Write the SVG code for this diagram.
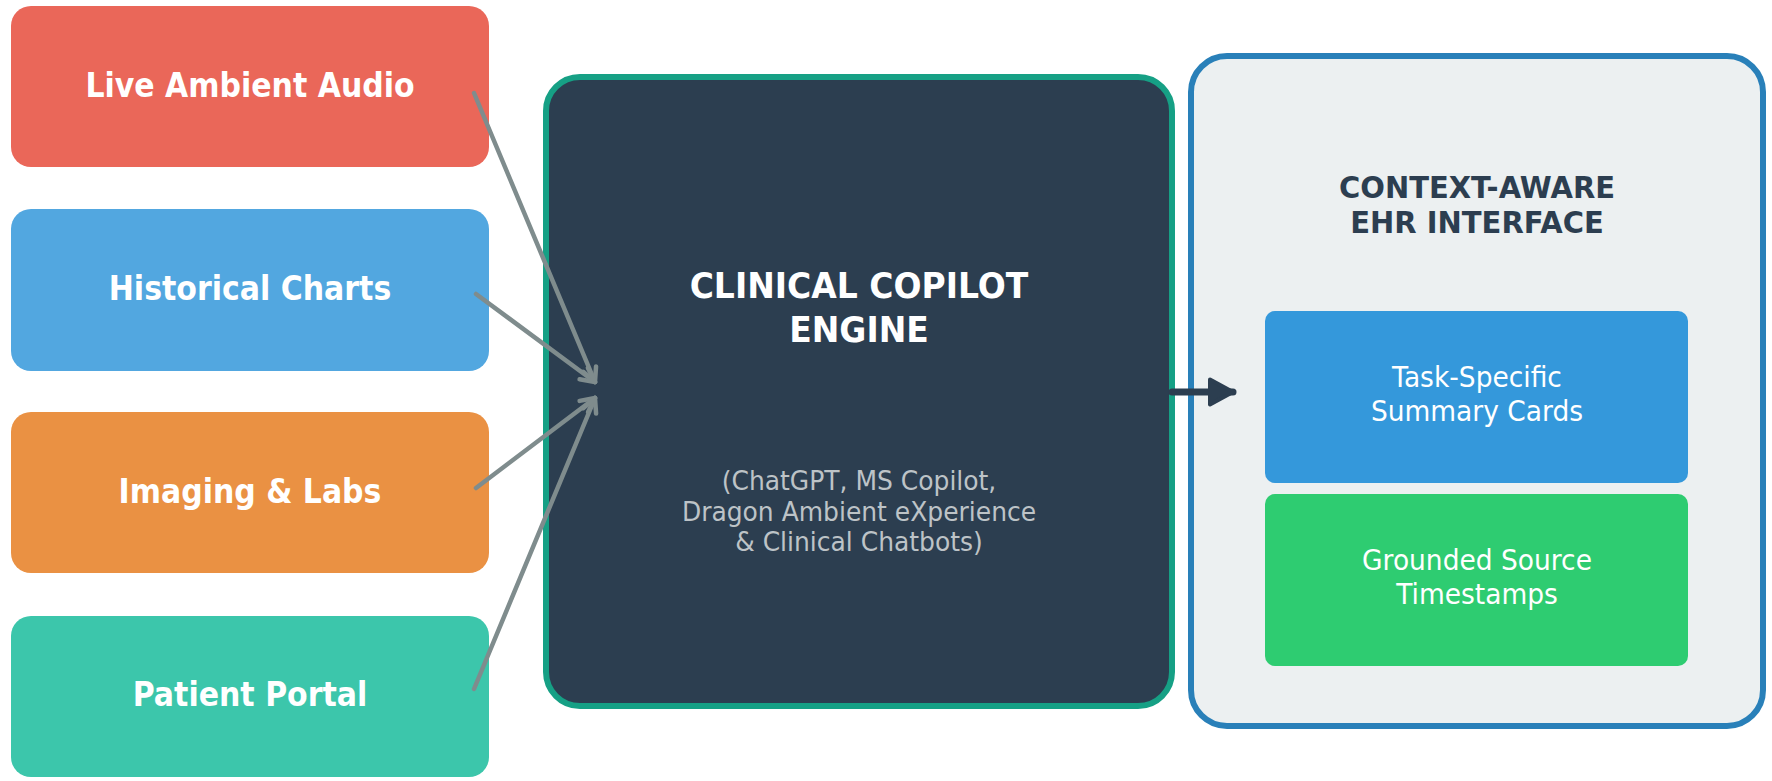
<svg xmlns="http://www.w3.org/2000/svg" width="1772" height="781" viewBox="0 0 1772 781">
<style>
.lbl{font-family:"DejaVu Sans","Liberation Sans",sans-serif;font-weight:bold;font-size:30px;fill:#ffffff;text-anchor:middle;dominant-baseline:central}
.title{font-family:"DejaVu Sans","Liberation Sans",sans-serif;font-weight:bold;text-anchor:middle;dominant-baseline:central}
.sub{font-family:"DejaVu Sans","Liberation Sans",sans-serif;font-size:25px;fill:#bdc3c7;text-anchor:middle;dominant-baseline:central}
.card{font-family:"DejaVu Sans","Liberation Sans",sans-serif;font-size:26.5px;fill:#ffffff;text-anchor:middle;dominant-baseline:central}
.in{fill:none;stroke:#7f8c8d;stroke-width:4.5;stroke-linecap:round}
.out{fill:none;stroke:#2c3e50;stroke-width:7;stroke-linecap:round}
</style>
<defs>
<marker id="ah" viewBox="0 0 20 20" markerWidth="20" markerHeight="20" markerUnits="userSpaceOnUse" refX="17" refY="10" orient="auto">
<path d="M3,3 L17,10 L3,17" fill="none" stroke="#7f8c8d" stroke-width="4.5" stroke-linecap="round" stroke-linejoin="round"/>
</marker>
<marker id="ahd" viewBox="0 0 30 30" markerWidth="30" markerHeight="30" markerUnits="userSpaceOnUse" refX="26" refY="15" orient="auto">
<path d="M3,2.5 L26,15 L3,27.5 Z" fill="#2c3e50" stroke="#2c3e50" stroke-width="4" stroke-linejoin="round"/>
</marker>
</defs>
<rect width="1772" height="781" fill="#ffffff"/>

<g id="live-audio">
<rect x="11" y="6" width="478" height="161" rx="20" fill="#ea6759"/>
<text class="lbl" transform="translate(250,85) scale(1,1.1)">Live Ambient Audio</text>
</g>
<g id="historical-charts">
<rect x="11" y="209" width="478" height="162" rx="20" fill="#52a7e0"/>
<text class="lbl" transform="translate(250,288) scale(1,1.1)">Historical Charts</text>
</g>
<g id="imaging-labs">
<rect x="11" y="412" width="478" height="161" rx="20" fill="#ea9143"/>
<text class="lbl" transform="translate(250,491) scale(1,1.1)">Imaging &amp; Labs</text>
</g>
<g id="patient-portal">
<rect x="11" y="616" width="478" height="161" rx="20" fill="#3cc6ab"/>
<text class="lbl" transform="translate(250,694) scale(1,1.1)">Patient Portal</text>
</g>

<g id="engine">
<rect x="546" y="77" width="626" height="629" rx="34" fill="#2c3e50" stroke="#16a085" stroke-width="6"/>
<text class="title" font-size="33" fill="#ffffff" transform="translate(859,285) scale(1,1.1)">CLINICAL COPILOT</text>
<text class="title" font-size="33" fill="#ffffff" transform="translate(859,329) scale(1,1.1)">ENGINE</text>
<text class="sub" transform="translate(859,481) scale(1,1.06)">(ChatGPT, MS Copilot,</text>
<text class="sub" transform="translate(859,512) scale(1,1.06)">Dragon Ambient eXperience</text>
<text class="sub" transform="translate(859,542) scale(1,1.06)">&amp; Clinical Chatbots)</text>
</g>

<g id="ehr-interface">
<rect x="1191" y="56" width="572" height="670" rx="36" fill="#ecf0f1" stroke="#2980b9" stroke-width="6"/>
<text class="title" font-size="29" fill="#2c3e50" transform="translate(1477,188) scale(1,1.04)">CONTEXT-AWARE</text>
<text class="title" font-size="29" fill="#2c3e50" transform="translate(1477,223) scale(1,1.04)">EHR INTERFACE</text>
</g>
<g id="summary-cards">
<rect x="1265" y="311" width="423" height="172" rx="10" fill="#3498db"/>
<text class="card" transform="translate(1477,377) scale(1,1.05)">Task-Specific</text>
<text class="card" transform="translate(1477,411) scale(1,1.05)">Summary Cards</text>
</g>
<g id="source-timestamps">
<rect x="1265" y="494" width="423" height="172" rx="10" fill="#2ecc71"/>
<text class="card" transform="translate(1477,560) scale(1,1.05)">Grounded Source</text>
<text class="card" transform="translate(1477,594) scale(1,1.05)">Timestamps</text>
</g>

<g id="connectors">
<line class="in" x1="474" y1="93" x2="595" y2="382" marker-end="url(#ah)"/>
<line class="in" x1="476" y1="294" x2="595" y2="382" marker-end="url(#ah)"/>
<line class="in" x1="476" y1="488" x2="595" y2="398" marker-end="url(#ah)"/>
<line class="in" x1="474" y1="689" x2="595" y2="398" marker-end="url(#ah)"/>
<line class="out" x1="1172" y1="392" x2="1233" y2="392" marker-end="url(#ahd)"/>
</g>
</svg>
